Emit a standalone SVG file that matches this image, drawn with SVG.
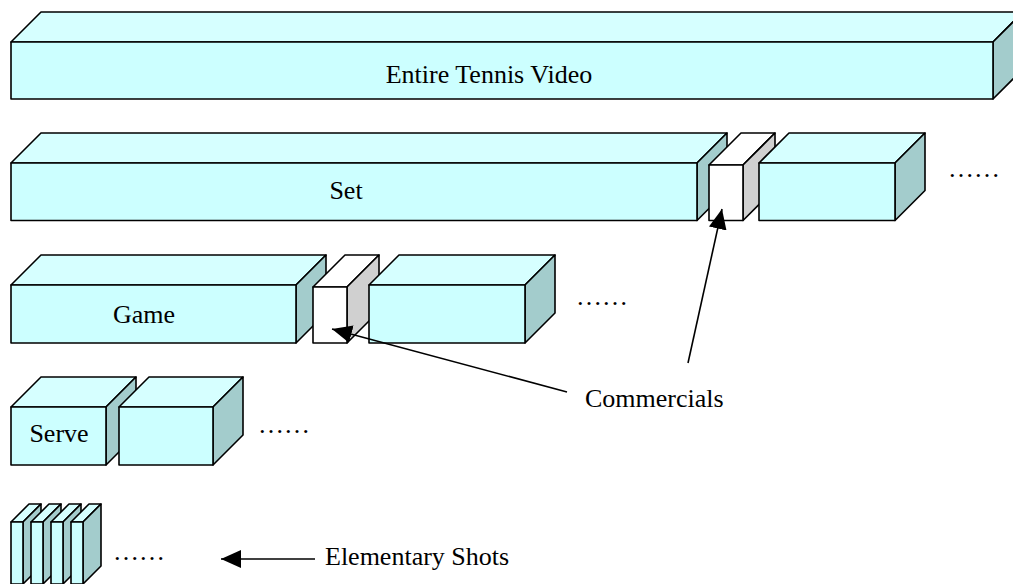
<svg xmlns="http://www.w3.org/2000/svg" width="1013" height="584" viewBox="0 0 1013 584">
<style>
.top{fill:#d6ffff;stroke:#000;stroke-width:1.6;stroke-linejoin:round}
.front{fill:#ccffff;stroke:#000;stroke-width:1.6;stroke-linejoin:round}
.side{fill:#a3cccc;stroke:#000;stroke-width:1.6;stroke-linejoin:round}
.wtop{fill:#ffffff;stroke:#000;stroke-width:1.6;stroke-linejoin:round}
.wfront{fill:#ffffff;stroke:#000;stroke-width:1.6;stroke-linejoin:round}
.wside{fill:#d0d0d0;stroke:#000;stroke-width:1.6;stroke-linejoin:round}
text{font-family:"Liberation Serif","Times New Roman",serif;font-size:26px;fill:#000}
.conn{stroke:#000;stroke-width:1.6;fill:none}
</style>
<defs>
<marker id="ah" viewBox="0 0 20 18" refX="20" refY="9" markerWidth="20" markerHeight="18" markerUnits="userSpaceOnUse" orient="auto">
<path d="M0,0 L20,9 L0,18 z" fill="#000"/>
</marker>
</defs>
<rect width="1013" height="584" fill="#fff"/>

<g id="entire">
<polygon class="top" points="11,42 41,12 1023,12 993,42"/>
<polygon class="side" points="993,42 1023,12 1023,69 993,99"/>
<rect class="front" x="11" y="42" width="982" height="57"/>
<text x="489" y="83" text-anchor="middle">Entire Tennis Video</text>
</g>

<g id="set">
<polygon class="top" points="11,163 41,133 727,133 697,163"/>
<polygon class="side" points="697,163 727,133 727,190.5 697,220.5"/>
<rect class="front" x="11" y="163" width="686" height="57.5"/>
<text x="346" y="199" text-anchor="middle">Set</text>
</g>

<g id="commercial-set">
<polygon class="wtop" points="709,165 741,133 775,133 743,165"/>
<polygon class="wside" points="743,165 775,133 775,188.5 743,220.5"/>
<rect class="wfront" x="709" y="165" width="34" height="55.5"/>
</g>

<g id="set2">
<polygon class="top" points="759,163 789,133 925,133 895,163"/>
<polygon class="side" points="895,163 925,133 925,190.5 895,220.5"/>
<rect class="front" x="759" y="163" width="136" height="57.5"/>
</g>
<text x="948" y="177">……</text>

<g id="game">
<polygon class="top" points="11,285 41,255 326,255 296,285"/>
<polygon class="side" points="296,285 326,255 326,313 296,343"/>
<rect class="front" x="11" y="285" width="285" height="58"/>
<text x="144" y="323" text-anchor="middle">Game</text>
</g>

<g id="commercial-game">
<polygon class="wtop" points="313,287 345,255 379,255 347,287"/>
<polygon class="wside" points="347,287 379,255 379,311 347,343"/>
<rect class="wfront" x="313" y="287" width="34" height="56"/>
</g>

<g id="game2">
<polygon class="top" points="369,285 399,255 555,255 525,285"/>
<polygon class="side" points="525,285 555,255 555,313 525,343"/>
<rect class="front" x="369" y="285" width="156" height="58"/>
</g>
<text x="576" y="305">……</text>

<g id="serve">
<polygon class="top" points="11,407 41,377 136,377 106,407"/>
<polygon class="side" points="106,407 136,377 136,435 106,465"/>
<rect class="front" x="11" y="407" width="95" height="58"/>
<text x="59" y="442" text-anchor="middle">Serve</text>
</g>

<g id="serve2">
<polygon class="top" points="119,407 149,377 243,377 213,407"/>
<polygon class="side" points="213,407 243,377 243,435 213,465"/>
<rect class="front" x="119" y="407" width="94" height="58"/>
</g>
<text x="258" y="433">……</text>

<g id="shots">
<polygon class="top" points="11,522 29,504 41,504 23,522"/>
<polygon class="side" points="23,522 41,504 41,566 23,584"/>
<rect class="front" x="11" y="522" width="12" height="62"/>
<polygon class="top" points="31,522 49,504 61,504 43,522"/>
<polygon class="side" points="43,522 61,504 61,566 43,584"/>
<rect class="front" x="31" y="522" width="12" height="62"/>
<polygon class="top" points="51,522 69,504 81,504 63,522"/>
<polygon class="side" points="63,522 81,504 81,566 63,584"/>
<rect class="front" x="51" y="522" width="12" height="62"/>
<polygon class="top" points="71,522 89,504 101,504 83,522"/>
<polygon class="side" points="83,522 101,504 101,566 83,584"/>
<rect class="front" x="71" y="522" width="12" height="62"/>
</g>
<text x="113" y="560">……</text>

<g id="connectors">
<line class="conn" x1="567" y1="392" x2="332" y2="329" marker-end="url(#ah)"/>
<line class="conn" x1="688" y1="363" x2="722" y2="209" marker-end="url(#ah)"/>
<line class="conn" x1="315" y1="559" x2="221" y2="559" marker-end="url(#ah)"/>
</g>

<g id="labels">
<text x="585" y="407">Commercials</text>
<text x="325" y="565">Elementary Shots</text>
</g>
</svg>
